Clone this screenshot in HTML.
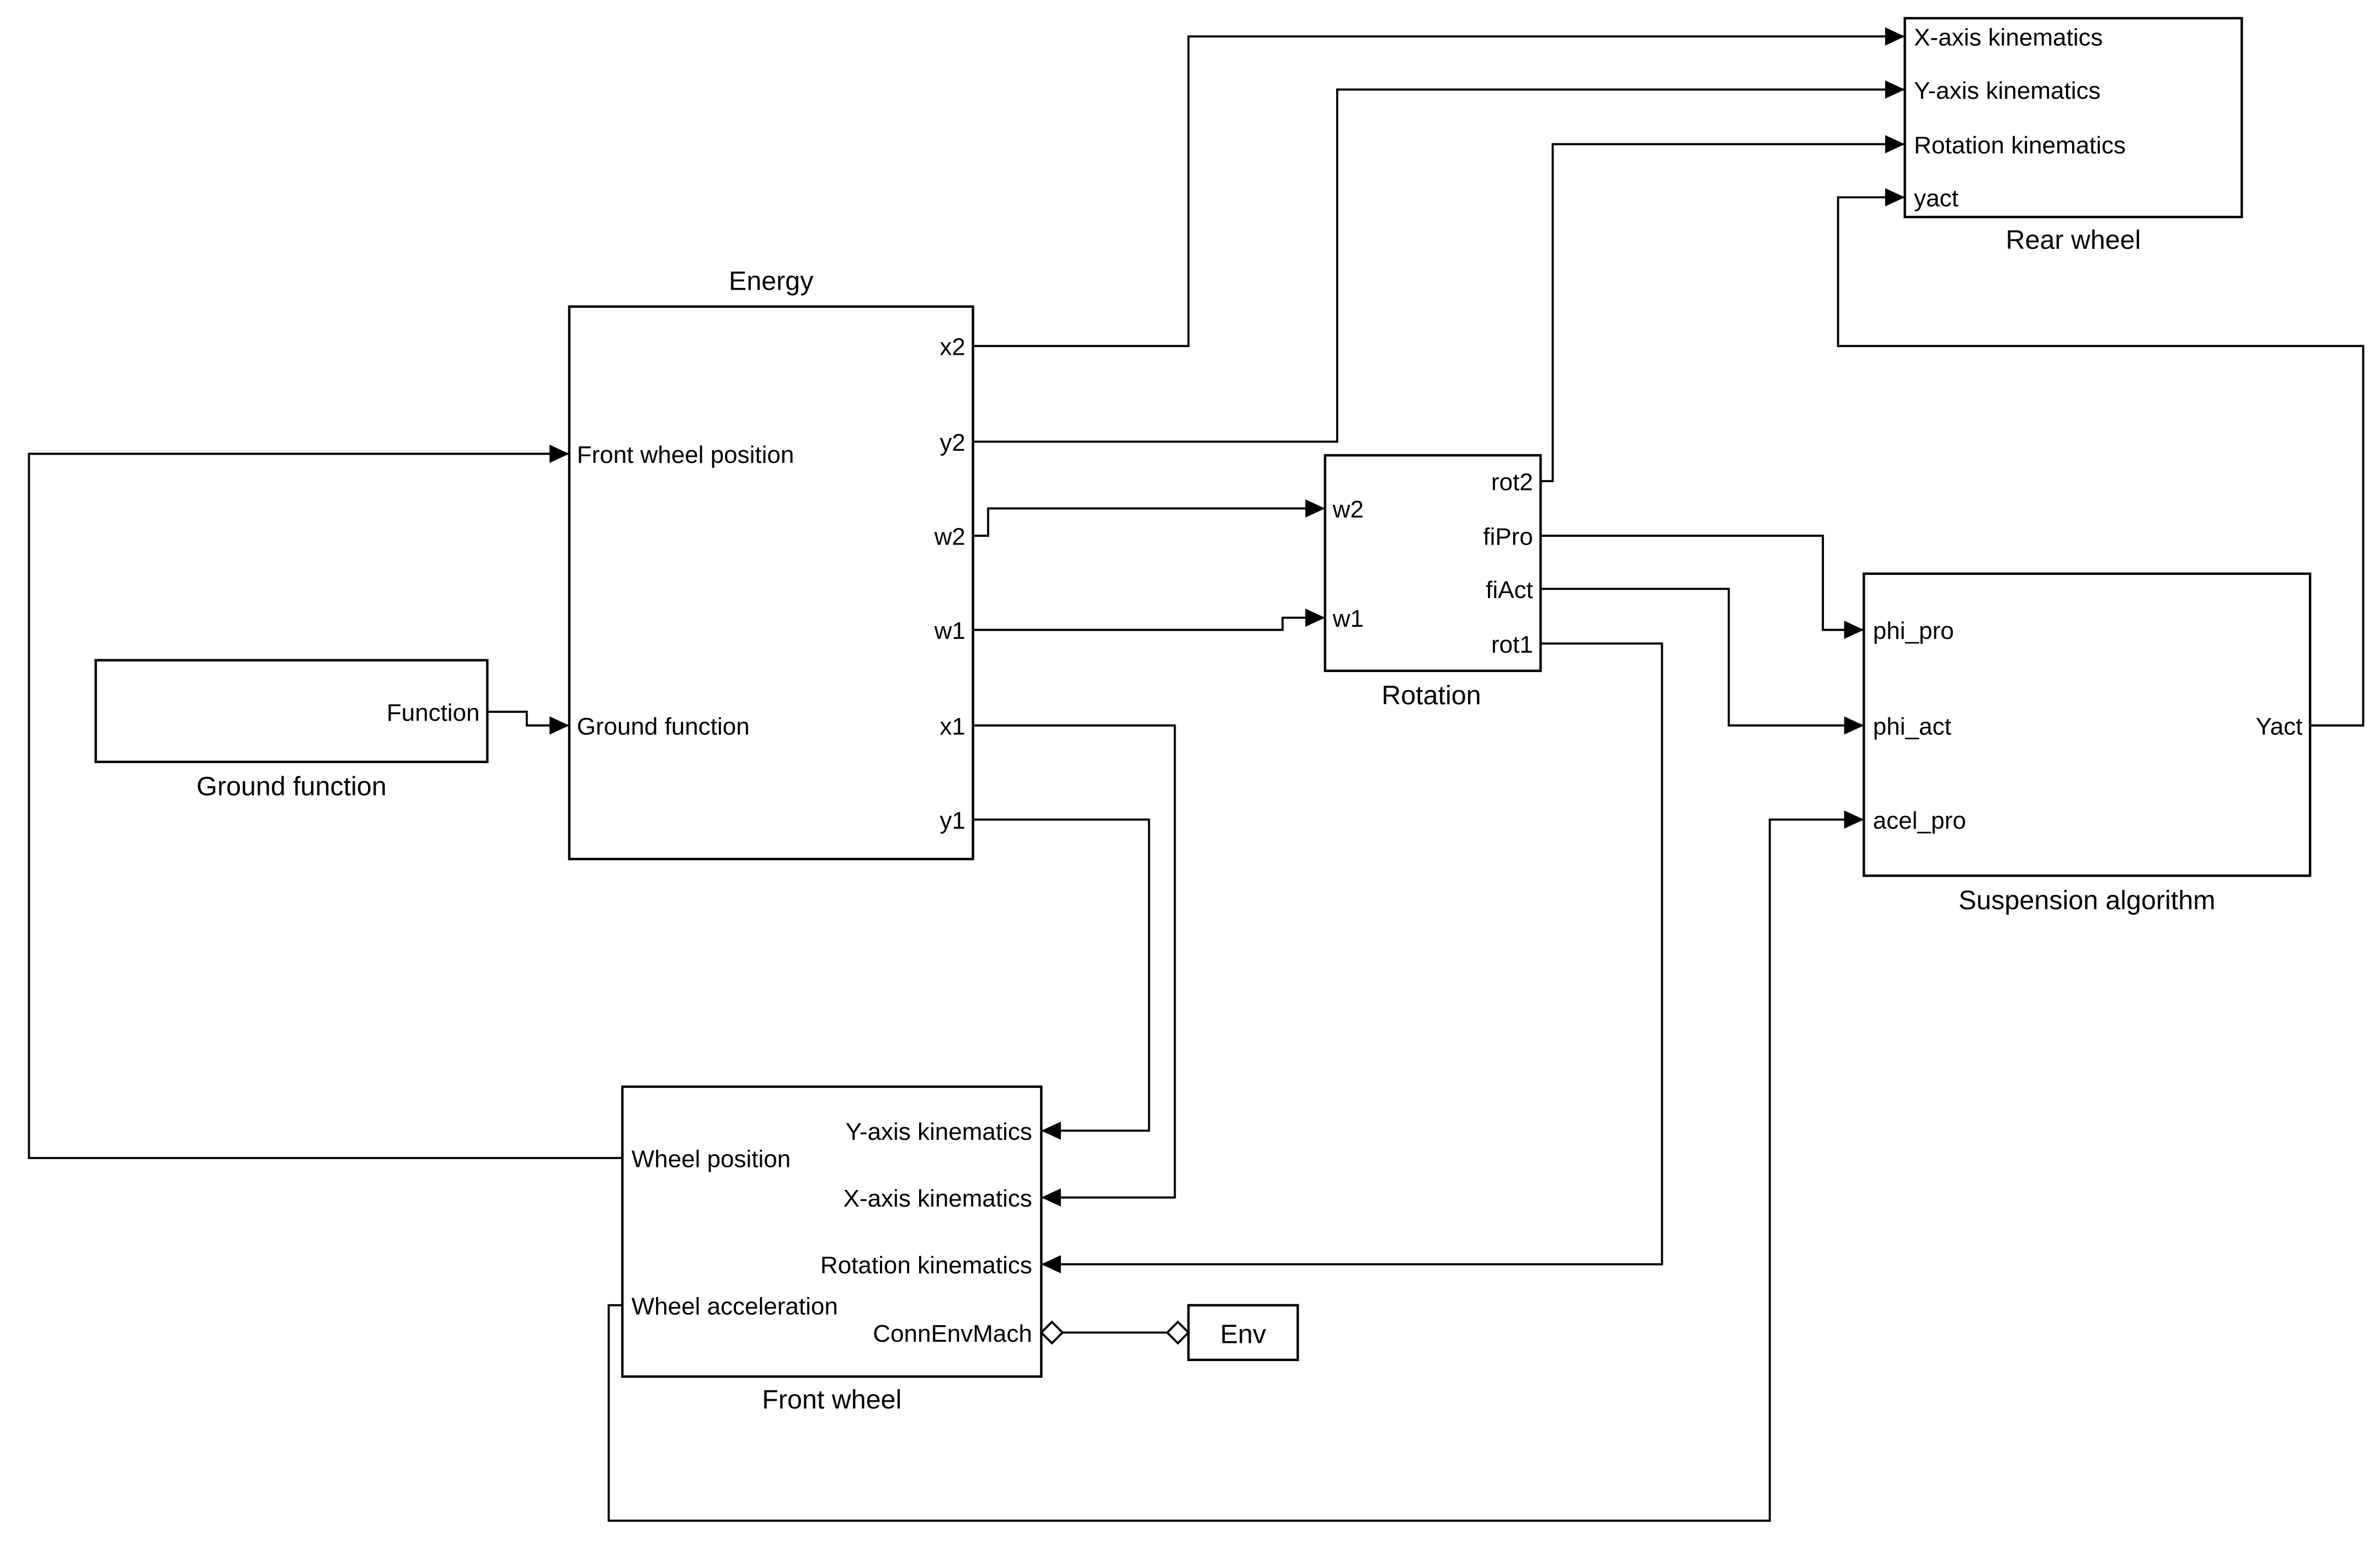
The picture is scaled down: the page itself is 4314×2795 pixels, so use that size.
<!DOCTYPE html>
<html><head><style>html,body{margin:0;padding:0;background:#fff}svg{display:block}</style></head>
<body>
<svg width="4314" height="2795" viewBox="0 0 1568 1016" xmlns="http://www.w3.org/2000/svg" font-family="Liberation Sans, Arial, sans-serif">
<defs>
<marker id="a" markerWidth="14" markerHeight="12" refX="13" refY="6" orient="auto" markerUnits="userSpaceOnUse"><path d="M0,0 L13,6 L0,12 Z" fill="#000"/></marker>
</defs>
<g fill="none" stroke="#000" stroke-width="1.6">
<rect x="1255" y="12" width="222" height="131"/>
<rect x="375" y="202" width="266" height="364"/>
<rect x="63" y="435" width="258" height="67"/>
<rect x="873" y="300" width="142" height="142"/>
<rect x="1228" y="378" width="294" height="199"/>
<rect x="410" y="716" width="276" height="191"/>
<rect x="783" y="860" width="72" height="36"/>
</g>
<g fill="none" stroke="#000" stroke-width="1.4">
<polyline points="641,228 783,228 783,24 1255,24" marker-end="url(#a)"/>
<polyline points="641,291 881,291 881,59 1255,59" marker-end="url(#a)"/>
<polyline points="1015,317 1023,317 1023,95 1255,95" marker-end="url(#a)"/>
<polyline points="1522,478 1557,478 1557,228 1211,228 1211,130 1255,130" marker-end="url(#a)"/>
<polyline points="641,353 651,353 651,335 873,335" marker-end="url(#a)"/>
<polyline points="641,415 845,415 845,407 873,407" marker-end="url(#a)"/>
<polyline points="1015,353 1201,353 1201,415 1228,415" marker-end="url(#a)"/>
<polyline points="1015,388 1139,388 1139,478 1228,478" marker-end="url(#a)"/>
<polyline points="1015,424 1095,424 1095,833 686,833" marker-end="url(#a)"/>
<polyline points="641,478 774,478 774,789 686,789" marker-end="url(#a)"/>
<polyline points="641,540 757,540 757,745 686,745" marker-end="url(#a)"/>
<polyline points="410,763 19,763 19,299 375,299" marker-end="url(#a)"/>
<polyline points="321,469 347,469 347,478 375,478" marker-end="url(#a)"/>
<polyline points="410,860 401,860 401,1002 1166,1002 1166,540 1228,540" marker-end="url(#a)"/>
<line x1="700" y1="878" x2="769" y2="878"/>
<path d="M686,878 L693,871 L700,878 L693,885 Z" fill="#fff"/>
<path d="M769,878 L776,871 L783,878 L776,885 Z" fill="#fff"/>
</g>
<g font-size="16" fill="#000">
<text x="1261" y="30">X-axis kinematics</text>
<text x="1261" y="65">Y-axis kinematics</text>
<text x="1261" y="101">Rotation kinematics</text>
<text x="1261" y="136">yact</text>
<text x="380" y="305">Front wheel position</text>
<text x="380" y="484">Ground function</text>
<g text-anchor="end">
<text x="636" y="234">x2</text>
<text x="636" y="297">y2</text>
<text x="636" y="359">w2</text>
<text x="636" y="421">w1</text>
<text x="636" y="484">x1</text>
<text x="636" y="546">y1</text>
<text x="316" y="475">Function</text>
<text x="1010" y="323">rot2</text>
<text x="1010" y="359">fiPro</text>
<text x="1010" y="394">fiAct</text>
<text x="1010" y="430">rot1</text>
<text x="1517" y="484">Yact</text>
<text x="680" y="751">Y-axis kinematics</text>
<text x="680" y="795">X-axis kinematics</text>
<text x="680" y="839">Rotation kinematics</text>
<text x="680" y="884">ConnEnvMach</text>
</g>
<text x="878" y="341">w2</text>
<text x="878" y="413">w1</text>
<text x="1234" y="421">phi_pro</text>
<text x="1234" y="484">phi_act</text>
<text x="1234" y="546">acel_pro</text>
<text x="416" y="769">Wheel position</text>
<text x="416" y="866">Wheel acceleration</text>
</g>
<g font-size="17.6" fill="#000" text-anchor="middle">
<text x="1366" y="164">Rear wheel</text>
<text x="508" y="191">Energy</text>
<text x="192" y="524">Ground function</text>
<text x="943" y="464">Rotation</text>
<text x="1375" y="599">Suspension algorithm</text>
<text x="548" y="928">Front wheel</text>
<text x="819" y="885">Env</text>
</g>
</svg>
</body></html>
